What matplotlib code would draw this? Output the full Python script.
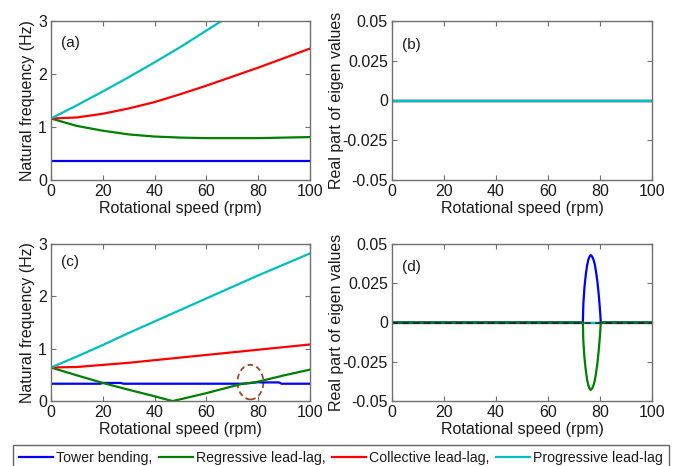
import matplotlib
matplotlib.use("Agg")
import matplotlib.pyplot as plt
from matplotlib.patches import Ellipse

plt.rcParams['font.family'] = ['Liberation Sans', 'DejaVu Sans']

# ---------------- data ----------------
# (a) isolated rotor: natural frequencies vs rotational speed
rpm_a = [0, 10, 20, 30, 40, 50, 60, 70, 80, 90, 100]
tower_a = [0.35, 0.35, 0.35, 0.35, 0.35, 0.35, 0.35, 0.35, 0.35, 0.35, 0.35]
regressive_a = [1.16, 1.02, 0.93, 0.86, 0.82, 0.80, 0.79, 0.79, 0.79, 0.80, 0.81]
collective_a = [1.16, 1.18, 1.25, 1.35, 1.47, 1.62, 1.78, 1.95, 2.12, 2.30, 2.48]
progressive_a = [1.16, 1.41, 1.67, 1.94, 2.22, 2.51, 2.82, 3.13, 3.45, 3.77, 4.10]

# (c) coupled rotor-tower system
rpm_tower_c = [0, 19, 20, 27, 28, 74, 76, 78, 80, 81, 88, 89, 100]
tower_c = [0.33, 0.33, 0.345, 0.345, 0.33, 0.33, 0.34, 0.35, 0.36, 0.355, 0.355, 0.33, 0.33]
rpm_reg_c = [0, 10, 20, 30, 40, 46, 47, 48, 60, 70, 74, 76, 78, 80, 90, 100]
regressive_c = [0.64, 0.49, 0.345, 0.215, 0.09, 0.01, 0.0, 0.01, 0.15, 0.28, 0.33, 0.34, 0.35, 0.37, 0.49, 0.60]
rpm_c = [0, 10, 20, 30, 40, 50, 60, 70, 80, 90, 100]
collective_c = [0.64, 0.65, 0.69, 0.73, 0.78, 0.83, 0.88, 0.93, 0.98, 1.03, 1.08]
progressive_c = [0.64, 0.85, 1.07, 1.30, 1.52, 1.74, 1.96, 2.18, 2.40, 2.61, 2.82]

# (b) real parts, isolated rotor
rpm_b = [0, 100]
real_zero = [0.0, 0.0]

# (d) real parts, coupled system (tower / regressive pair goes unstable)
rpm_d = [0, 73.4, 73.6, 74, 74.5, 75, 75.5, 76, 76.4, 77, 77.5, 78, 78.5, 79, 79.5, 80, 80.2, 80.3, 100]
real_tower_d = [0, 0, 0.012, 0.022, 0.030, 0.036, 0.040, 0.042, 0.043, 0.042, 0.040,
                0.037, 0.032, 0.026, 0.018, 0.008, 0.003, 0, 0]
real_reg_d = [-v for v in real_tower_d]

# flutter region marker in (c): centre (rpm, Hz), width (rpm), height (Hz)
flutter_centre = (77.0, 0.36)
flutter_size = (10.0, 0.66)

mode_names = ['Tower bending,', 'Regressive lead-lag,', 'Collective lead-lag,', 'Progressive lead-lag']
colors = ['#0000ff', '#008000', '#ff0000', '#00bfbf']

# ---------------- figure ----------------
W, H = 676, 466
fig = plt.figure(figsize=(W / 100, H / 100), dpi=100)

def box(l, t, r, b):
    return [l / W, 1 - b / H, (r - l) / W, (b - t) / H]

ax_a = fig.add_axes(box(51, 21, 310, 180))
ax_b = fig.add_axes(box(392, 21, 652, 180))
ax_c = fig.add_axes(box(51, 244, 310, 401))
ax_d = fig.add_axes(box(392, 244, 652, 401))

text_c = '#1a1a1a'
spine_c = '#707070'
fs = 11.5
lw = 1.6

def style(ax, ylim, yticks, yticklabels, ylabel, tag, tag_y=0.86, ylabelpad=2):
    ax.set_xlim(0, 100)
    ax.set_ylim(*ylim)
    ax.set_xticks([0, 20, 40, 60, 80, 100])
    ax.set_yticks(yticks)
    ax.set_yticklabels(yticklabels)
    ax.tick_params(direction='in', length=3.5, width=0.8, color=spine_c,
                   top=True, right=True, labelsize=fs, labelcolor=text_c, pad=3)
    for s in ax.spines.values():
        s.set_color(spine_c)
        s.set_linewidth(1.0)
    ax.set_xlabel('Rotational speed (rpm)', fontsize=fs, color=text_c, labelpad=1)
    ax.set_ylabel(ylabel, fontsize=fs, color=text_c, labelpad=ylabelpad)
    ax.text(0.04, tag_y, tag, transform=ax.transAxes, fontsize=fs - 0.5,
            color=text_c, va='center', ha='left')

# (a)
ax_a.plot(rpm_a, tower_a, color=colors[0], lw=lw)
ax_a.plot(rpm_a, regressive_a, color=colors[1], lw=lw)
ax_a.plot(rpm_a, collective_a, color=colors[2], lw=lw)
ax_a.plot(rpm_a, progressive_a, color=colors[3], lw=lw)
style(ax_a, (0, 3), [0, 1, 2, 3], ['0', '1', '2', '3'], 'Natural frequency (Hz)', '(a)')

# (b)
for c in colors:
    ax_b.plot(rpm_b, real_zero, color=c, lw=lw)
style(ax_b, (-0.05, 0.05), [-0.05, -0.025, 0, 0.025, 0.05],
      ['-0.05', '-0.025', '0', '0.025', '0.05'], 'Real part of eigen values', '(b)', 0.85,
      ylabelpad=-1)

# (c)
ax_c.plot(rpm_tower_c, tower_c, color=colors[0], lw=lw)
ax_c.plot(rpm_reg_c, regressive_c, color=colors[1], lw=lw)
ax_c.plot(rpm_c, collective_c, color=colors[2], lw=lw)
ax_c.plot(rpm_c, progressive_c, color=colors[3], lw=lw)
ax_c.add_patch(Ellipse(flutter_centre, flutter_size[0], flutter_size[1], fill=False,
                       ec='#9a4a2a', ls=(0, (3, 2)), lw=1.3))
style(ax_c, (0, 3), [0, 1, 2, 3], ['0', '1', '2', '3'], 'Natural frequency (Hz)', '(c)', 0.885)

# (d)
ax_d.plot(rpm_b, real_zero, color=colors[2], lw=lw)
ax_d.plot(rpm_b, real_zero, color=colors[3], lw=lw)
ax_d.plot(rpm_d, real_tower_d, color=colors[0], lw=lw)
ax_d.plot(rpm_d, real_reg_d, color=colors[1], lw=lw)
ax_d.axhline(0, color='#202020', lw=1.1, ls=(0, (4, 3)))
style(ax_d, (-0.05, 0.05), [-0.05, -0.025, 0, 0.025, 0.05],
      ['-0.05', '-0.025', '0', '0.025', '0.05'], 'Real part of eigen values', '(d)', 0.855,
      ylabelpad=-1)

# shared legend along the bottom edge
handles = [plt.Line2D([], [], color=c, lw=lw) for c in colors]
leg_l, leg_r, leg_t = 13, 669, 445
leg = fig.legend(handles, mode_names, ncol=4, loc='upper left', mode='expand',
                 bbox_to_anchor=(leg_l / W, 1 - leg_t / H, (leg_r - leg_l) / W, 0.0),
                 bbox_transform=fig.transFigure,
                 prop={'size': 10.2},
                 frameon=True, fancybox=False, shadow=False, borderaxespad=0,
                 borderpad=0.45, handlelength=2.4, handletextpad=0.2, columnspacing=0.6)
leg.get_frame().set_edgecolor('#404040')
leg.get_frame().set_linewidth(1.0)
for t in leg.get_texts():
    t.set_color(text_c)

fig.savefig('out.png', dpi=100)
